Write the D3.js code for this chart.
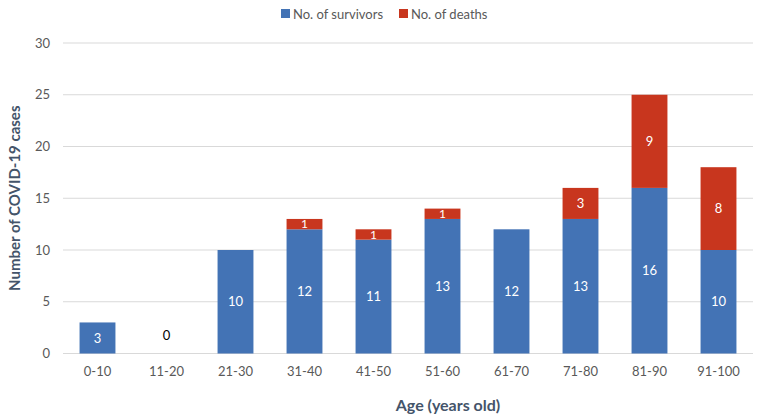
<!DOCTYPE html>
<html>
<head>
<meta charset="utf-8">
<script src="https://cdn.jsdelivr.net/npm/d3@7"></script>
<style>
  body { margin: 0; background: #fff; }
  svg { font-family: Lato, "Open Sans", sans-serif; }
</style>
</head>
<body>
<div id="chart"></div>
<script>
const ageGroups = ["0-10", "11-20", "21-30", "31-40", "41-50", "51-60", "61-70", "71-80", "81-90", "91-100"];
const survivors = [3, 0, 10, 12, 11, 13, 12, 13, 16, 10];
const deaths = [0, 0, 0, 1, 1, 1, 0, 3, 9, 8];
const yTicks = [0, 5, 10, 15, 20, 25, 30];
const seriesNames = ["No. of survivors", "No. of deaths"];
const colors = ["#4373B5", "#C8361E"];

const width = 759, height = 418;
const margin = { top: 43, right: 6, bottom: 64.5, left: 63 };

const svg = d3.select("#chart").append("svg")
  .attr("width", width).attr("height", height);

const x = d3.scaleBand().domain(ageGroups)
  .range([margin.left, width - margin.right]).paddingInner(0.48).paddingOuter(0.24);
const y = d3.scaleLinear().domain([0, 30]).range([height - margin.bottom, margin.top]);

// gridlines
svg.append("g").selectAll("line").data(yTicks).join("line")
  .attr("x1", margin.left).attr("x2", width - margin.right)
  .attr("y1", d => y(d)).attr("y2", d => y(d))
  .attr("stroke", "#D9D9D9").attr("stroke-width", 1);

// y tick labels
svg.append("g").selectAll("text").data(yTicks).join("text")
  .attr("x", 50).attr("y", d => y(d)).attr("dy", "0.35em")
  .attr("text-anchor", "end").attr("fill", "#595959").attr("font-size", 13)
  .text(d => d);

// x tick labels
svg.append("g").selectAll("text").data(ageGroups).join("text")
  .attr("x", d => x(d) + x.bandwidth() / 2).attr("y", y(0) + 22)
  .attr("text-anchor", "middle").attr("fill", "#595959").attr("font-size", 13)
  .text(d => d);

const rows = ageGroups.map((g, i) => ({ group: g, survivors: survivors[i], deaths: deaths[i] }));
const stack = d3.stack().keys(["survivors", "deaths"])(rows);

stack.forEach((layer, li) => {
  const g = svg.append("g");
  g.selectAll("rect").data(layer.filter(d => d[1] - d[0] > 0)).join("rect")
    .attr("x", d => x(d.data.group)).attr("width", x.bandwidth())
    .attr("y", d => y(d[1])).attr("height", d => y(d[0]) - y(d[1]))
    .attr("fill", colors[li]);
  g.selectAll("text").data(layer.filter(d => d[1] - d[0] > 0)).join("text")
    .attr("x", d => x(d.data.group) + x.bandwidth() / 2)
    .attr("y", d => (y(d[0]) + y(d[1])) / 2).attr("dy", "0.36em")
    .attr("text-anchor", "middle").attr("fill", "#fff")
    .attr("font-size", d => (d[1] - d[0]) < 2 ? 12 : 13)
    .text(d => d[1] - d[0]);
});

// zero label for empty group
rows.filter(d => d.survivors + d.deaths === 0).forEach(d => {
  svg.append("text")
    .attr("x", x(d.group) + x.bandwidth() / 2).attr("y", y(0) - 14)
    .attr("text-anchor", "middle").attr("fill", "#000").attr("font-size", 13)
    .text(0);
});

// axis titles
svg.append("text")
  .attr("transform", `translate(20,${(y(0) + y(30)) / 2}) rotate(-90)`)
  .attr("text-anchor", "middle").attr("font-size", 15).attr("font-weight", "bold")
  .attr("fill", "#44546A").text("Number of COVID-19 cases");
svg.append("text")
  .attr("x", 448).attr("y", 411)
  .attr("text-anchor", "middle").attr("font-size", 16).attr("font-weight", "bold")
  .attr("fill", "#44546A").text("Age (years old)");

// legend
const legend = svg.append("g");
const legendX = [281, 399];
seriesNames.forEach((name, i) => {
  legend.append("rect").attr("x", legendX[i]).attr("y", 9).attr("width", 9).attr("height", 9)
    .attr("fill", colors[i]);
  legend.append("text").attr("x", legendX[i] + 12).attr("y", 14).attr("dy", "0.35em")
    .attr("font-size", 13).attr("fill", "#595959").text(name);
});
</script>
</body>
</html>
